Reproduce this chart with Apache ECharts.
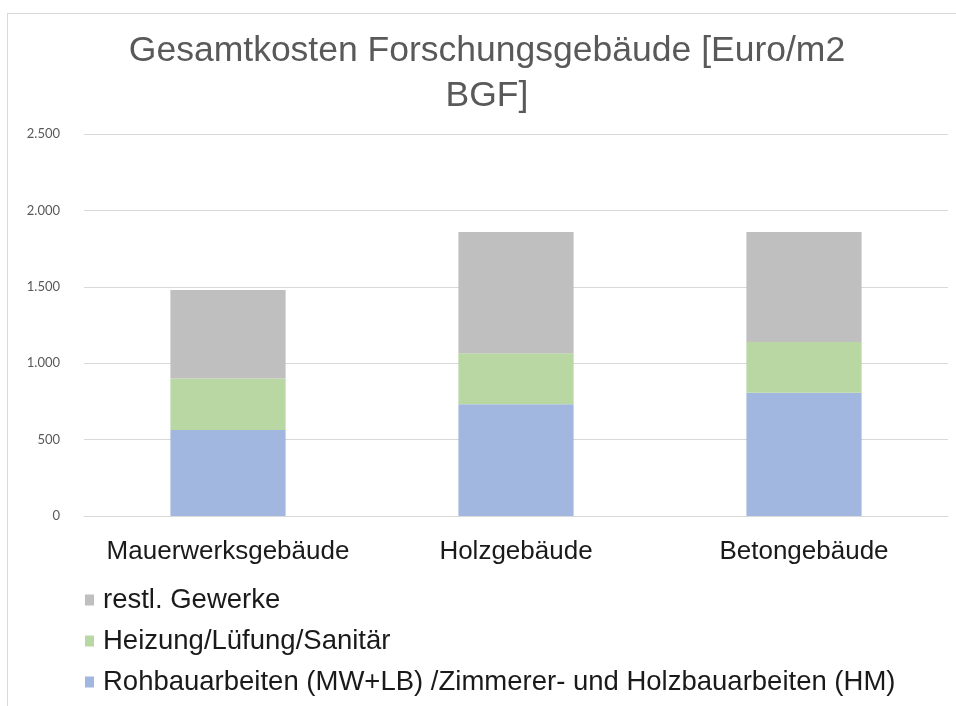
<!DOCTYPE html>
<html>
<head>
<meta charset="utf-8">
<script src="https://cdn.jsdelivr.net/npm/echarts@6/dist/echarts.min.js"></script>
<style>
  html, body { margin: 0; padding: 0; background: #fff; overflow: hidden; }
  #frame { position: absolute; left: 7px; top: 13px; width: 960px; height: 720px;
           border-left: 1px solid #d9d9d9; border-top: 1px solid #d9d9d9; }
  #chart { position: absolute; left: 0; top: 0; width: 956px; height: 706px; }
</style>
</head>
<body>
<div id="frame"></div>
<div id="chart"></div>
<script>
const categories = ['Mauerwerksgebäude', 'Holzgebäude', 'Betongebäude'];
const rohbau = [563, 731, 807];
const heizung = [337, 334, 332];
const restl = [579, 794, 720];
const seriesNames = [
  'Rohbauarbeiten (MW+LB) /Zimmerer- und Holzbauarbeiten (HM)',
  'Heizung/Lüfung/Sanitär',
  'restl. Gewerke'
];
const yTicks = [0, 500, 1000, 1500, 2000, 2500];

const chart = echarts.init(document.getElementById('chart'), null, { renderer: 'canvas' });

// German thousands separator
function fmt(v) {
  return String(v).replace(/\B(?=(\d{3})+(?!\d))/g, '.');
}

const barCommon = { type: 'bar', stack: 'total', barWidth: '40%' };

chart.setOption({
  animation: false,
  title: {
    text: 'Gesamtkosten Forschungsgebäude [Euro/m2\nBGF]',
    left: 487,
    textAlign: 'center',
    top: 29,
    padding: 0,
    textStyle: {
      fontFamily: '"Liberation Sans", Arial, sans-serif',
      fontWeight: 'normal',
      fontSize: 35.5,
      lineHeight: 45,
      color: '#595959'
    }
  },
  grid: { left: 84, right: 8, top: 134, bottom: 190, containLabel: false },
  xAxis: {
    type: 'category',
    data: categories,
    axisLine: { show: true, lineStyle: { color: '#d9d9d9' } },
    axisTick: { show: false },
    axisLabel: {
      interval: 0,
      fontFamily: '"Liberation Sans", Arial, sans-serif',
      fontSize: 26,
      color: '#1a1a1a',
      margin: 23
    }
  },
  yAxis: {
    type: 'value',
    min: yTicks[0],
    max: yTicks[yTicks.length - 1],
    interval: 500,
    axisLine: { show: false },
    axisTick: { show: false },
    splitLine: { lineStyle: { color: '#d9d9d9', width: 1 } },
    axisLabel: {
      formatter: fmt,
      fontFamily: 'Lato, "Open Sans", sans-serif',
      fontSize: 13,
      color: '#595959',
      margin: 24
    }
  },
  legend: {
    orient: 'vertical',
    left: 80,
    top: 581,
    itemGap: 13,
    itemWidth: 9,
    itemHeight: 11,
    icon: 'rect',
    data: [seriesNames[2], seriesNames[1], seriesNames[0]],
    textStyle: {
      fontFamily: '"Liberation Sans", Arial, sans-serif',
      fontSize: 27.5,
      color: '#1a1a1a',
      padding: [0, 0, 0, 4]
    }
  },
  series: [
    Object.assign({}, barCommon, { name: seriesNames[0], data: rohbau, itemStyle: { color: '#a1b7e0' } }),
    Object.assign({}, barCommon, { name: seriesNames[1], data: heizung, itemStyle: { color: '#b8d7a2' } }),
    Object.assign({}, barCommon, { name: seriesNames[2], data: restl, itemStyle: { color: '#bfbfbf' } })
  ]
});
</script>
</body>
</html>
